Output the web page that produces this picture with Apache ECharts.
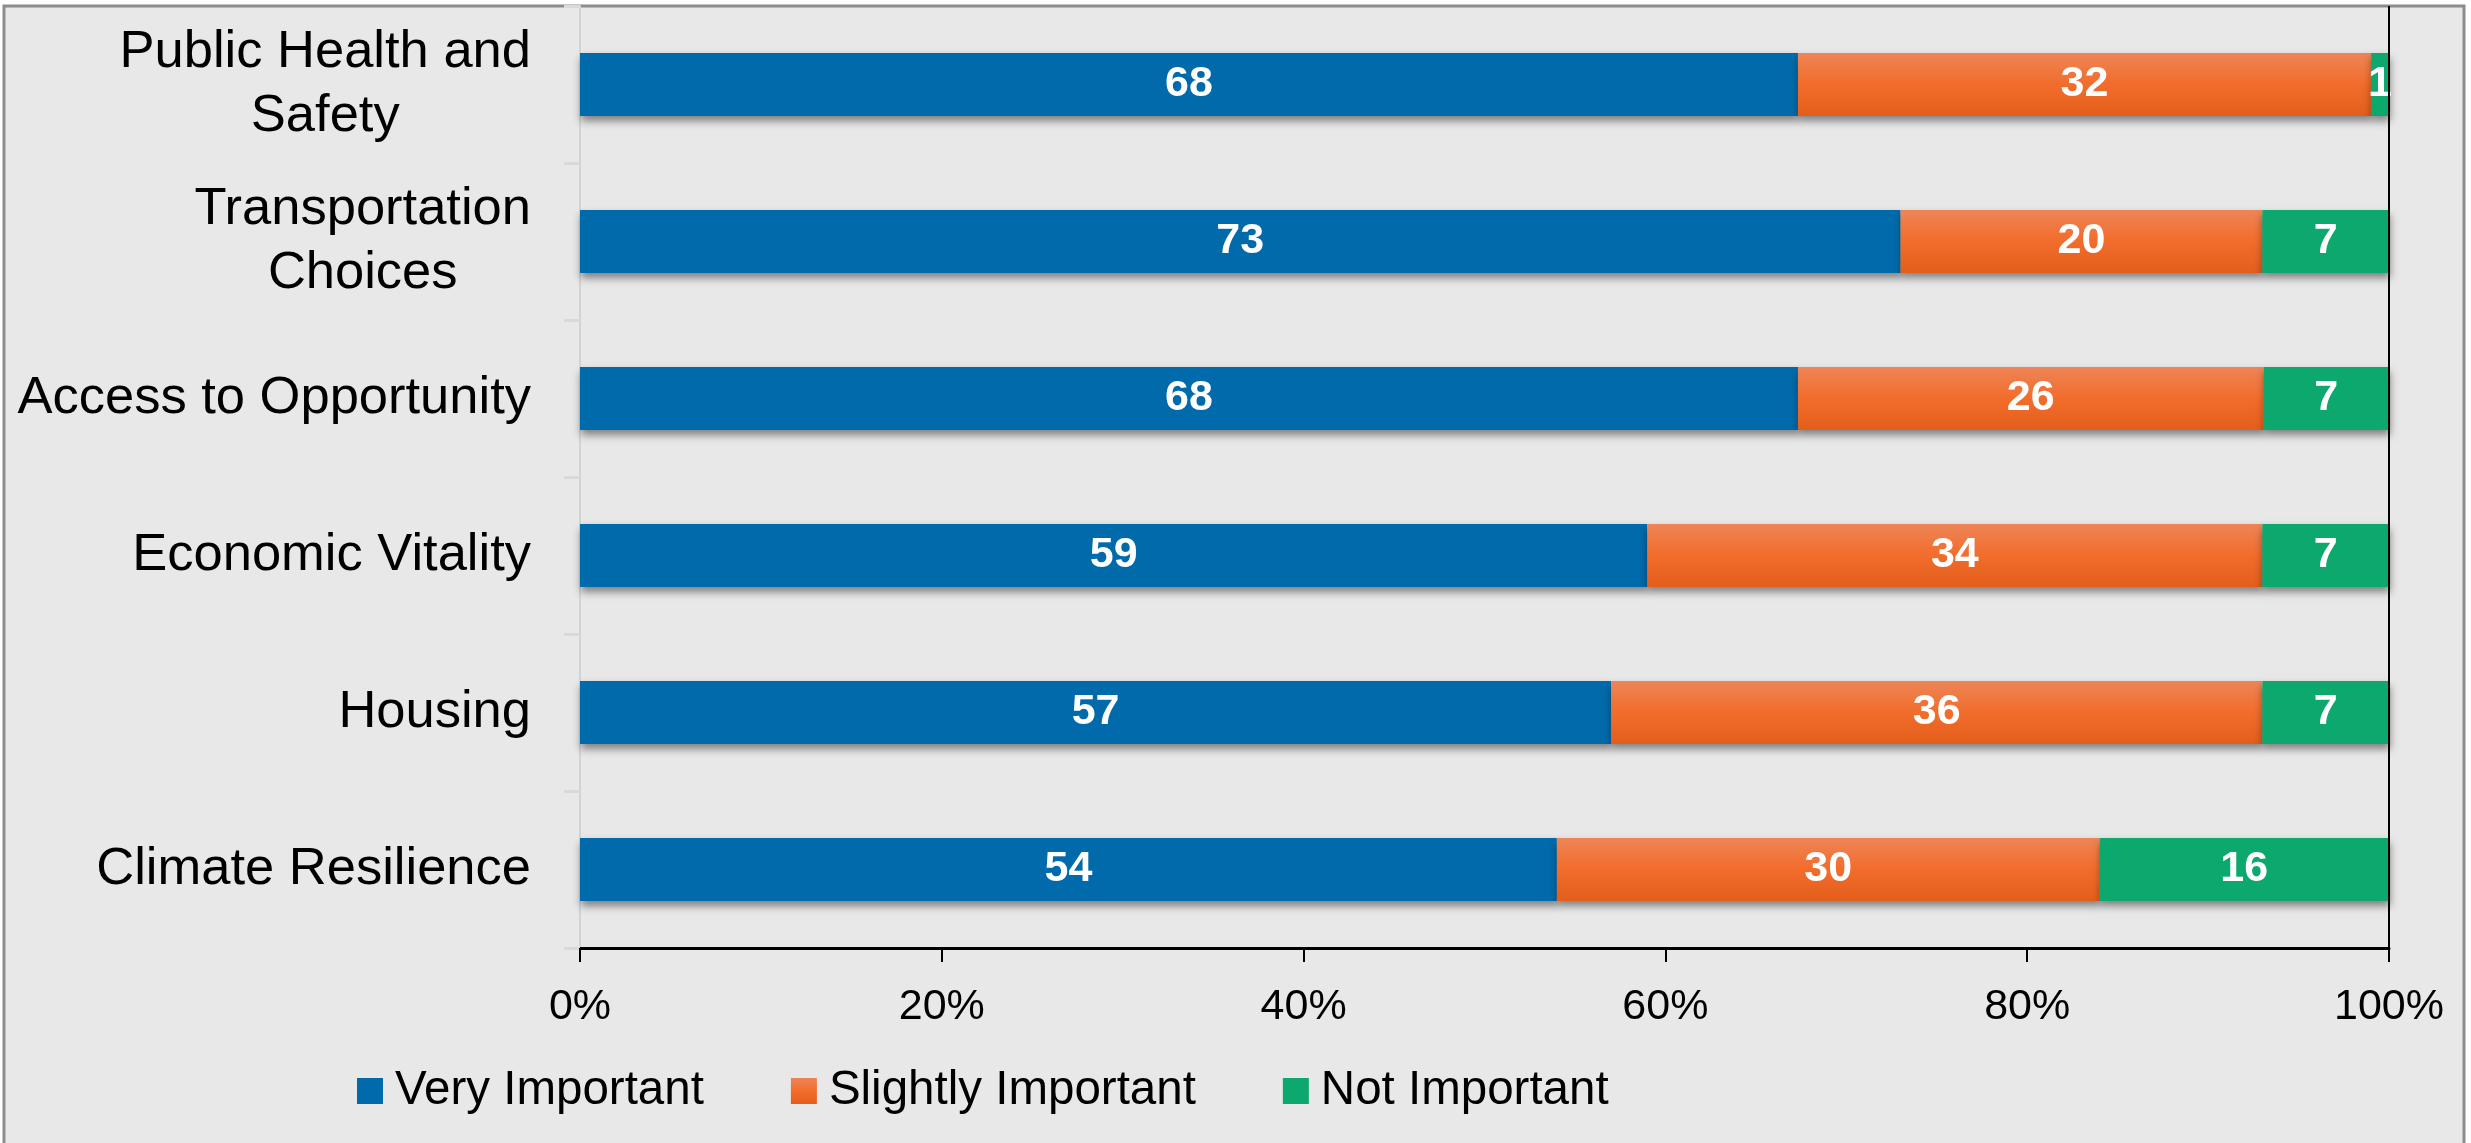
<!DOCTYPE html>
<html>
<head>
<meta charset="utf-8">
<script src="https://cdn.jsdelivr.net/npm/echarts@6/dist/echarts.min.js"></script>
<style>
html,body{margin:0;padding:0;background:#ffffff;}
#chart{width:2471px;height:1143px;}
</style>
</head>
<body>
<div id="chart"></div>
<script>
// ---- data (top to bottom as shown) ----
const categories = ['Public Health and\nSafety', 'Transportation\nChoices', 'Access to Opportunity', 'Economic Vitality', 'Housing', 'Climate Resilience'];
const seriesNames = ['Very Important', 'Slightly Important', 'Not Important'];
const veryImportant = [68, 73, 68, 59, 57, 54];
const slightlyImportant = [32, 20, 26, 34, 36, 30];
const notImportant = [1, 7, 7, 7, 7, 16];
const xTickValues = [0, 0.2, 0.4, 0.6, 0.8, 1];

const FONT = '"Liberation Sans", Arial, sans-serif';
const colors = [
  '#016AAA',
  new echarts.graphic.LinearGradient(0, 0, 0, 1, [
    {offset: 0, color: '#EE8557'},
    {offset: 0.5, color: '#F26C2B'},
    {offset: 1, color: '#E35E1B'}
  ]),
  '#0CA86E'
];
const rows = [veryImportant, slightlyImportant, notImportant];
const totals = categories.map((c, i) => veryImportant[i] + slightlyImportant[i] + notImportant[i]);

const series = rows.map((arr, s) => ({
  name: seriesNames[s],
  type: 'bar',
  stack: 'total',
  barCategoryGap: '60%',
  data: arr.map((v, i) => ({value: v / totals[i], raw: v})),
  itemStyle: {
    color: colors[s],
    shadowColor: 'rgba(0,0,0,0.45)',
    shadowBlur: 8,
    shadowOffsetY: 5,
    shadowOffsetX: 1
  },
  label: {
    show: true,
    position: 'inside',
    color: '#ffffff',
    fontWeight: 'bold',
    fontSize: 43,
    fontFamily: FONT,
    formatter: p => String(p.data.raw)
  },
  emphasis: {disabled: true},
  markLine: s === 0 ? {
    silent: true,
    symbol: ['none', 'none'],
    label: {show: false},
    lineStyle: {color: '#000000', width: 2, type: 'solid'},
    data: [{xAxis: xTickValues[xTickValues.length - 1]}]
  } : undefined
}));

const chart = echarts.init(document.getElementById('chart'), null, {renderer: 'canvas'});
chart.setOption({
  animation: false,
  backgroundColor: 'transparent',
  graphic: [{
    type: 'rect',
    z: -10,
    silent: true,
    shape: {x: 4, y: 6, width: 2460, height: 1150},
    style: {fill: '#E8E8E8', stroke: '#8C8C8C', lineWidth: 3}
  }],
  grid: {left: 580, right: 82, top: 6, bottom: 195, containLabel: false},
  xAxis: {
    type: 'value',
    min: xTickValues[0],
    max: xTickValues[xTickValues.length - 1],
    interval: 0.2,
    axisLine: {show: true, lineStyle: {color: '#000000', width: 3}},
    axisTick: {show: true, length: 14, lineStyle: {color: '#000000', width: 2}},
    splitLine: {show: false},
    axisLabel: {
      fontSize: 43,
      fontFamily: FONT,
      color: '#000000',
      margin: 38,
      formatter: v => Math.round(v * 100) + '%'
    }
  },
  yAxis: {
    type: 'category',
    inverse: true,
    data: categories,
    axisLine: {show: true, lineStyle: {color: '#D3D3D3', width: 2}},
    axisTick: {show: true, length: 16, lineStyle: {color: '#D9D9D9', width: 3}},
    axisLabel: {
      margin: 49,
      align: 'right',
      color: '#000000',
      fontSize: 52.5,
      fontFamily: FONT,
      formatter: v => v.split('\n').map(l => '{c|' + l + '}').join('\n'),
      rich: {
        c: {align: 'center', fontSize: 52.5, fontFamily: FONT, color: '#000000', lineHeight: 64}
      }
    }
  },
  legend: {
    left: 357,
    top: 1067,
    padding: 0,
    itemWidth: 26,
    itemHeight: 26,
    itemGap: 87,
    icon: 'rect',
    itemStyle: {shadowBlur: 0, shadowOffsetX: 0, shadowOffsetY: 0},
    textStyle: {fontSize: 47.5, fontFamily: FONT, color: '#000000', padding: [0, 0, 0, 7]},
    data: seriesNames
  },
  series: series
});
</script>
</body>
</html>
